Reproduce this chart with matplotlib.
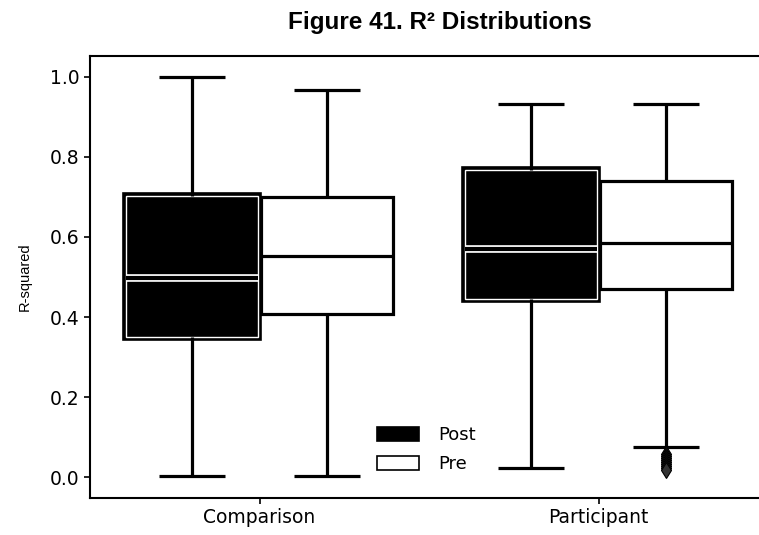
import matplotlib
matplotlib.use("Agg")
import matplotlib.pyplot as plt
import matplotlib.patheffects as pe
from matplotlib.patches import Patch

# Summary statistics of R-squared per group
groups = ["Comparison", "Participant"]
series = ["Post", "Pre"]

post_whislo = [0.003, 0.023]
post_q1 = [0.350, 0.444]
post_med = [0.497, 0.569]
post_q3 = [0.702, 0.768]
post_whishi = [1.000, 0.933]
post_fliers = [[], []]

pre_whislo = [0.003, 0.075]
pre_q1 = [0.408, 0.469]
pre_med = [0.552, 0.585]
pre_q3 = [0.700, 0.741]
pre_whishi = [0.968, 0.933]
pre_fliers = [[], [0.058, 0.052, 0.047, 0.042, 0.037, 0.032, 0.027, 0.022, 0.017]]

y_ticks = [0.0, 0.2, 0.4, 0.6, 0.8, 1.0]

fig = plt.figure(figsize=(7.59, 5.35), dpi=100)
ax = fig.add_axes([90 / 759, 37 / 535, 678 / 759, 442 / 535])

offset = 0.2
width = 0.39
lw = 2.3


def stats_for(whislo, q1, med, q3, whishi, fliers):
    out = []
    for i in range(len(groups)):
        out.append(dict(whislo=whislo[i], q1=q1[i], med=med[i], q3=q3[i],
                        whishi=whishi[i], fliers=fliers[i]))
    return out


post_stats = stats_for(post_whislo, post_q1, post_med, post_q3, post_whishi, post_fliers)
pre_stats = stats_for(pre_whislo, pre_q1, pre_med, pre_q3, pre_whishi, pre_fliers)

line_kw = dict(color="black", linewidth=lw, solid_capstyle="butt")
flier_kw = dict(marker="d", markerfacecolor="#333333", markeredgecolor="black",
                markersize=8, markeredgewidth=0.8, linestyle="none")

bp_post = ax.bxp(post_stats, positions=[i - offset for i in range(len(groups))],
                 widths=width, patch_artist=True, showfliers=True,
                 boxprops=dict(facecolor="black", edgecolor="white", linewidth=1.0),
                 medianprops=dict(color="black", linewidth=3.0),
                 whiskerprops=line_kw, capprops=line_kw, flierprops=flier_kw)
for box in bp_post["boxes"]:
    box.set_path_effects([pe.Stroke(linewidth=5.5, foreground="black"), pe.Normal()])
for m in bp_post["medians"]:
    m.set_path_effects([pe.Stroke(linewidth=5.5, foreground="white"), pe.Normal()])

bp_pre = ax.bxp(pre_stats, positions=[i + offset for i in range(len(groups))],
                widths=width, patch_artist=True, showfliers=True,
                boxprops=dict(facecolor="white", edgecolor="black", linewidth=lw),
                medianprops=dict(color="black", linewidth=lw),
                whiskerprops=line_kw, capprops=line_kw, flierprops=flier_kw)

ax.set_xlim(-0.5, 1.5)
ax.set_ylim(-0.052, 1.052)
ax.set_xticks(range(len(groups)))
ax.set_xticklabels(groups)
ax.set_yticks(y_ticks)
ax.set_yticklabels([f"{v:.1f}" for v in y_ticks])
ax.tick_params(labelsize=13.5, length=4, width=1.2, colors="black")
for s in ax.spines.values():
    s.set_linewidth(1.5)
    s.set_color("black")

ax.set_ylabel("R-squared", fontsize=10.5, family="Liberation Sans", labelpad=13)

post_handle = Patch(facecolor="black", edgecolor="black", linewidth=1.2, label=series[0])
pre_handle = Patch(facecolor="white", edgecolor="black", linewidth=1.2, label=series[1])
leg = fig.legend(handles=[post_handle, pre_handle], loc="upper left",
                 bbox_to_anchor=(377 / 759, 1 - 426 / 535),
                 frameon=False, fontsize=13, handlelength=2.35, handleheight=0.78,
                 handletextpad=1.05, labelspacing=0.62, borderpad=0, borderaxespad=0)

fig.text(440 / 759, 1 - 22 / 535, "Figure 41. R\u00b2 Distributions", ha="center", va="center",
         fontsize=17.5, fontweight="bold", family="Liberation Sans")

fig.savefig("out.png", dpi=100)
